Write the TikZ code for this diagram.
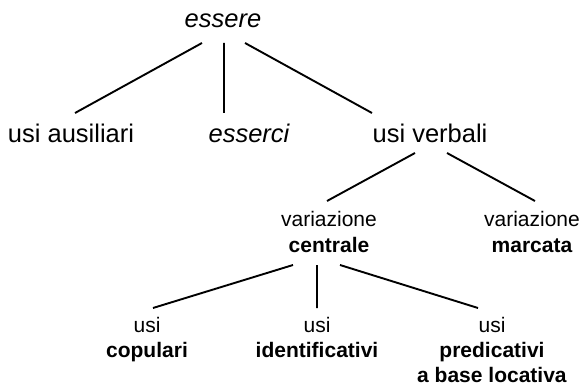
\documentclass[tikz,border=0pt]{standalone}
\usepackage{fontspec}
\setmainfont{Liberation Sans}
\usepackage{tikz}

\begin{document}
\begin{tikzpicture}[x=1pt,y=-1pt,
  every node/.style={inner sep=0pt,anchor=base,align=center}
]

\tikzstyle{upper}=[font=\fontsize{25.5}{30}\selectfont]
\tikzstyle{lower}=[font=\fontsize{21}{25}\selectfont]
\tikzset{branch/.style={line width=1.9pt}}

\useasboundingbox (0,0) rectangle (583,387);

% first levels
\node[upper] (essere)    at (223,28)  {\itshape essere};
\node[upper] (ausiliari) at (71,143)  {usi ausiliari};
\node[upper] (esserci)   at (249,143) {\itshape esserci};
\node[upper] (verbali)   at (430,143) {usi verbali};

% variation (base = last line)
\node[lower] (centrale) at (329,252) {variazione\\\textbf{centrale}};
\node[lower] (marcata)  at (532,252) {variazione\\\textbf{marcata}};

% uses
\node[lower] (copulari)  at (147,357) {usi\\\textbf{copulari}};
\node[lower] (identif)   at (317,357) {usi\\\textbf{identificativi}};
\node[lower] (predicat)  at (492,382) {usi\\\textbf{predicativi}\\\textbf{a base locativa}};

\draw[branch]
  ([xshift=-21pt,yshift=-15pt]essere.base) -- ([xshift=4pt,yshift=30pt]ausiliari.base)
  ([xshift=1pt,yshift=-15pt]essere.base) -- ([xshift=-25pt,yshift=30pt]esserci.base)
  ([xshift=22pt,yshift=-15pt]essere.base) -- ([xshift=-58pt,yshift=30pt]verbali.base);

\draw[branch]
  ([xshift=-15pt,yshift=-10pt]verbali.base) -- ([xshift=-2pt,yshift=51pt]centrale.base)
  ([xshift=17pt,yshift=-10pt]verbali.base) -- ([xshift=3pt,yshift=51pt]marcata.base);

\draw[branch]
  ([xshift=-36pt,yshift=-13pt]centrale.base) -- ([xshift=6pt,yshift=49pt]copulari.base)
  ([xshift=-12pt,yshift=-13pt]centrale.base) -- ([xshift=0pt,yshift=49pt]identif.base)
  ([xshift=11pt,yshift=-13pt]centrale.base) -- ([xshift=-14pt,yshift=74pt]predicat.base);

\end{tikzpicture}
\end{document}
